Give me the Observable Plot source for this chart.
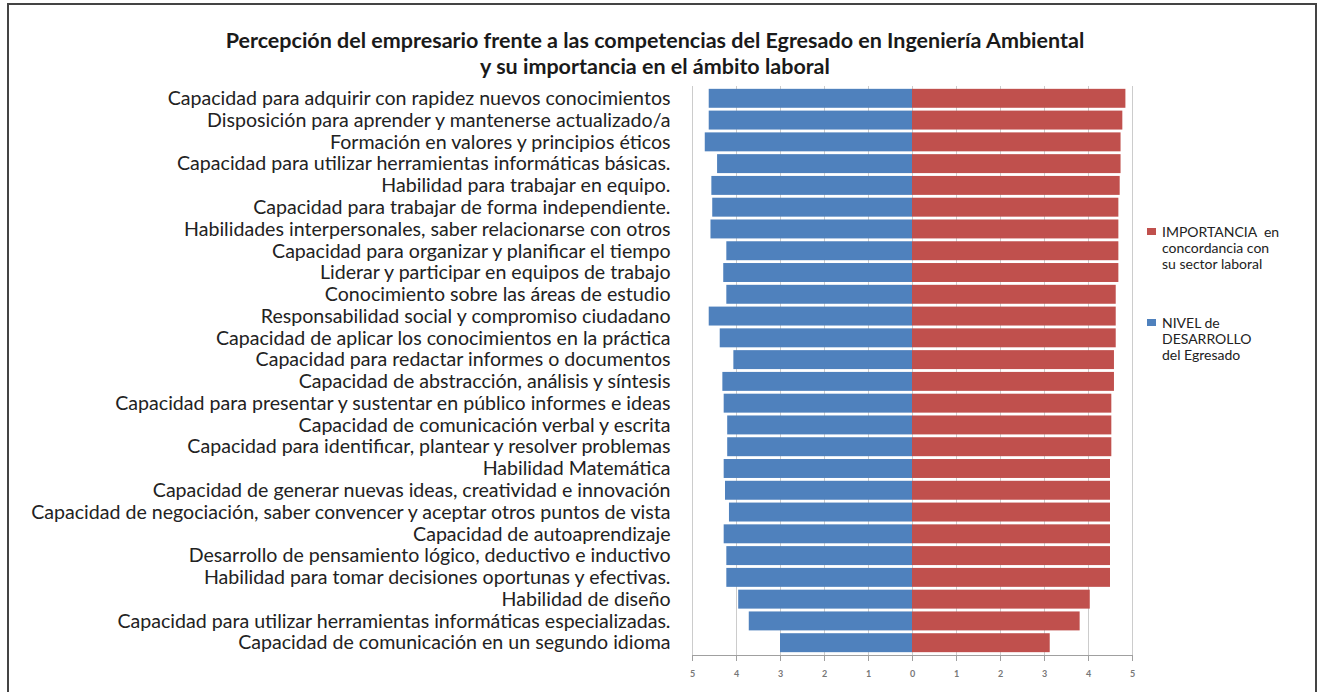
<!DOCTYPE html>
<html>
<head>
<meta charset="utf-8">
<script src="https://cdn.jsdelivr.net/npm/d3@7"></script>
<script src="https://cdn.jsdelivr.net/npm/@observablehq/plot@0.6"></script>
<style>
  html, body { margin: 0; padding: 0; background: #fff; }
  #wrap { position: relative; width: 1319px; height: 692px; overflow: hidden; font-family: Lato, "Open Sans", sans-serif; }
  #frame { position: absolute; left: 7px; top: 3px; width: 1310px; height: 720px; border: 2px solid #444; box-sizing: border-box; }
  #title { position: relative; height: 80px; width: 1310px; text-align: center; font-weight: bold; font-size: 21.5px; color: #1a1a1a; line-height: 26px; padding-top: 27px; box-sizing: border-box; }
  #chart svg { display: block; }
  .leg { position: absolute; left: 1147px; font-size: 14px; line-height: 16px; color: #222; }
  .leg .sw { position: absolute; left: 0; top: 4px; width: 9px; height: 7px; }
  .leg .tx { position: absolute; left: 15px; top: 0; white-space: nowrap; }
</style>
</head>
<body>
<div id="wrap">
  <div id="frame"></div>
  <div id="title"></div>
  <div id="chart"></div>
  <div id="legend"></div>
</div>
<script>
const titulo = ["Percepción del empresario frente a las competencias del Egresado en Ingeniería Ambiental", "y su importancia en el ámbito laboral"];
const categorias = [
  "Capacidad para adquirir con rapidez nuevos conocimientos",
  "Disposición para aprender y mantenerse actualizado/a",
  "Formación en valores y principios éticos",
  "Capacidad para utilizar herramientas informáticas básicas.",
  "Habilidad para trabajar en equipo.",
  "Capacidad para trabajar de forma independiente.",
  "Habilidades interpersonales, saber relacionarse con otros",
  "Capacidad para organizar y planificar el tiempo",
  "Liderar y participar en equipos de trabajo",
  "Conocimiento sobre las áreas de estudio",
  "Responsabilidad social y compromiso ciudadano",
  "Capacidad de aplicar los conocimientos en la práctica",
  "Capacidad para redactar informes o documentos",
  "Capacidad de abstracción, análisis y síntesis",
  "Capacidad para presentar y sustentar en público informes e ideas",
  "Capacidad de comunicación verbal y escrita",
  "Capacidad para identificar, plantear y resolver problemas",
  "Habilidad Matemática",
  "Capacidad de generar nuevas ideas, creatividad e innovación",
  "Capacidad de negociación, saber convencer y aceptar otros puntos de vista",
  "Capacidad de autoaprendizaje",
  "Desarrollo de pensamiento lógico, deductivo e inductivo",
  "Habilidad para tomar decisiones oportunas y efectivas.",
  "Habilidad de diseño",
  "Capacidad para utilizar herramientas informáticas especializadas.",
  "Capacidad de comunicación en un segundo idioma"
];
const nivel = [4.62, 4.62, 4.71, 4.43, 4.56, 4.54, 4.58, 4.22, 4.29, 4.22, 4.62, 4.37, 4.06, 4.31, 4.28, 4.20, 4.20, 4.28, 4.25, 4.16, 4.28, 4.22, 4.22, 3.95, 3.71, 3.00];
const importancia = [4.85, 4.78, 4.74, 4.74, 4.72, 4.69, 4.69, 4.69, 4.69, 4.63, 4.63, 4.63, 4.59, 4.59, 4.53, 4.53, 4.53, 4.50, 4.50, 4.50, 4.50, 4.50, 4.50, 4.04, 3.81, 3.13];
const serieImportancia = ["IMPORTANCIA  en", "concordancia con", "su sector laboral"];
const serieNivel = ["NIVEL de", "DESARROLLO", "del Egresado"];
const colorImportancia = "#C0504D";
const colorNivel = "#4F81BD";
const ticksX = [-5, -4, -3, -2, -1, 0, 1, 2, 3, 4, 5];

document.getElementById("title").innerHTML = titulo.join("<br>");

const filas = categorias.map((c, i) => ({categoria: c, nivel: nivel[i], importancia: importancia[i]}));

const plot = Plot.plot({
  width: 1319,
  height: 612,
  marginTop: 6,
  marginBottom: 37,
  marginLeft: 692,
  marginRight: 187,
  style: {fontFamily: "Lato, 'Open Sans', sans-serif", background: "transparent"},
  x: {domain: [-5, 5], ticks: ticksX, label: null},
  y: {domain: categorias, label: null, padding: 0.13, round: false},
  marks: [
    Plot.gridX(ticksX, {stroke: "#cccccc", strokeOpacity: 1, strokeWidth: 1}),
    Plot.barX(filas, {y: "categoria", x1: 0, x2: d => -d.nivel, fill: colorNivel}),
    Plot.barX(filas, {y: "categoria", x1: 0, x2: "importancia", fill: colorImportancia}),
    Plot.frame({anchor: "bottom", stroke: "#a0a0a0"}),
    Plot.axisX({ticks: ticksX, tickFormat: d => Math.abs(d), tickSize: 6, tickPadding: 9, fontSize: 9, stroke: "#a0a0a0", color: "#777", fontWeight: "bold"}),
    Plot.axisY({tickSize: 0, tickPadding: 22, fontSize: 19.6, color: "#222", textAnchor: "end"})
  ]
});
document.getElementById("chart").appendChild(plot);

const legend = document.getElementById("legend");
const entradas = [
  {lineas: serieImportancia, color: colorImportancia, top: 224},
  {lineas: serieNivel, color: colorNivel, top: 315}
];
for (const e of entradas) {
  const div = document.createElement("div");
  div.className = "leg";
  div.style.top = e.top + "px";
  div.innerHTML = `<span class="sw" style="background:${e.color}"></span><span class="tx">${e.lineas.join("<br>").replace(/  /g, "&nbsp; ")}</span>`;
  legend.appendChild(div);
}
</script>
</body>
</html>
